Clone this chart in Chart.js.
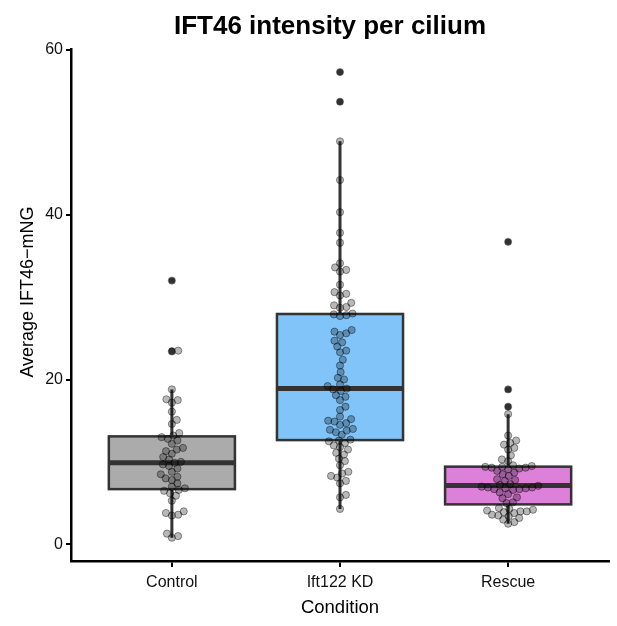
<!DOCTYPE html>
<html>
<head>
<meta charset="utf-8">
<script src="https://cdn.jsdelivr.net/npm/chart.js@4"></script>
<style>
  html, body { margin: 0; padding: 0; background: #fff; }
  #wrap { width: 617px; height: 626px; }
</style>
</head>
<body>
<div id="wrap"><canvas id="myChart" width="617" height="626"></canvas></div>
<script>
// Data
const conditions = ["Control", "Ift122 KD", "Rescue"];
const control = [0.8, 1.0, 1.3, 3.5, 3.6, 3.8, 4.0, 5.3, 5.9, 6.2, 6.5, 6.6, 6.8, 7.0, 7.4, 7.8, 8.0, 8.2, 8.5, 8.8, 9.2, 9.5, 9.7, 9.9, 10.0, 10.3, 10.6, 11.0, 11.3, 11.5, 11.7, 12.2, 12.6, 12.8, 13.0, 13.2, 13.5, 14.6, 15.1, 16.1, 17.2, 17.5, 17.6, 18.8, 23.4, 23.5, 32.0];
const ift122KD = [4.3, 5.7, 6.0, 7.4, 7.7, 8.1, 8.3, 8.6, 8.8, 9.6, 10.1, 10.4, 10.9, 11.1, 11.5, 11.8, 12.0, 12.3, 12.5, 12.6, 12.7, 13.3, 13.6, 13.8, 13.9, 14.0, 14.5, 14.7, 14.9, 15.0, 15.2, 15.5, 16.3, 16.7, 17.5, 17.9, 18.1, 18.6, 18.8, 18.9, 19.2, 19.4, 20.0, 20.2, 20.9, 21.7, 22.4, 23.3, 23.5, 24.0, 24.5, 24.7, 25.4, 25.6, 25.8, 26.0, 27.7, 27.8, 27.9, 28.0, 28.7, 28.8, 29.0, 29.3, 30.2, 30.4, 30.6, 31.5, 33.1, 33.3, 33.6, 34.1, 36.6, 37.8, 40.3, 44.2, 48.9, 53.7, 57.3];
const rescue = [2.5, 2.7, 3.0, 3.2, 3.4, 3.5, 3.6, 3.8, 3.9, 4.0, 4.0, 4.1, 4.2, 4.3, 4.4, 5.0, 5.1, 5.6, 5.7, 6.1, 6.3, 6.6, 6.7, 6.7, 6.8, 6.8, 6.9, 6.9, 7.0, 7.1, 7.2, 7.3, 7.7, 7.8, 7.9, 8.3, 8.5, 8.7, 8.9, 9.1, 9.2, 9.3, 9.3, 9.4, 9.4, 9.5, 9.6, 10.1, 10.3, 10.8, 11.5, 11.7, 12.1, 12.3, 12.6, 13.2, 15.8, 16.7, 18.8, 36.7];
const yTicks = [0, 20, 40, 60];
const boxColors = ["#ababab", "#80c4fa", "#dd80d9"];

const groups = [control, ift122KD, rescue];
const FONT = "'Liberation Sans', Arial, Helvetica, sans-serif";

// --------------------------- Box statistics ---------------------------
function quantile(sorted, p) {
	const h = (sorted.length - 1) * p;
	const lo = Math.floor(h);
	const hi = Math.min(lo + 1, sorted.length - 1);
	return sorted[lo] + (h - lo) * (sorted[hi] - sorted[lo]);
}

function boxStats(values) {
	const s = [...values].sort((a, b) => a - b);
	const q1 = quantile(s, 0.25);
	const med = quantile(s, 0.5);
	const q3 = quantile(s, 0.75);
	const iqr = q3 - q1;
	const inside = s.filter((v) => v >= q1 - 1.5 * iqr && v <= q3 + 1.5 * iqr);
	return {
		q1, med, q3,
		lo: inside[0],
		hi: inside[inside.length - 1],
		outliers: s.filter((v) => v < q1 - 1.5 * iqr || v > q3 + 1.5 * iqr),
	};
}

const stats = groups.map(boxStats);
const outlierPoints = [];
stats.forEach((st, g) => st.outliers.forEach((v) => outlierPoints.push({ x: g + 1, y: v })));

// --------------------------- Box plugin ---------------------------
const boxPlugin = {
	id: "boxes",
	beforeDatasetsDraw(chart) {
		const { ctx, scales: { x, y } } = chart;
		ctx.save();
		stats.forEach((st, g) => {
			const cx = x.getPixelForValue(g + 1);
			const x0 = x.getPixelForValue(g + 1 - 0.375);
			const x1 = x.getPixelForValue(g + 1 + 0.375);
			const yq1 = y.getPixelForValue(st.q1);
			const yq3 = y.getPixelForValue(st.q3);
			ctx.strokeStyle = "#333333";
			// whiskers
			ctx.lineWidth = 3;
			ctx.beginPath();
			ctx.moveTo(cx, y.getPixelForValue(st.hi));
			ctx.lineTo(cx, yq3);
			ctx.moveTo(cx, yq1);
			ctx.lineTo(cx, y.getPixelForValue(st.lo));
			ctx.stroke();
			// box
			ctx.fillStyle = boxColors[g];
			ctx.fillRect(x0, yq3, x1 - x0, yq1 - yq3);
			ctx.lineWidth = 2.5;
			ctx.strokeRect(x0, yq3, x1 - x0, yq1 - yq3);
			// median
			ctx.lineWidth = 5;
			ctx.beginPath();
			ctx.moveTo(x0, y.getPixelForValue(st.med));
			ctx.lineTo(x1, y.getPixelForValue(st.med));
			ctx.stroke();
		});
		ctx.restore();
	},
	afterDraw(chart) {
		const { ctx, chartArea } = chart;
		ctx.save();
		ctx.fillStyle = "#000";
		ctx.font = "bold 26px " + FONT;
		ctx.textAlign = "center";
		ctx.textBaseline = "middle";
		ctx.fillText("IFT46 intensity per cilium", (chartArea.left + chartArea.right) / 2 - 10, 27);
		// y axis title
		ctx.font = "18px " + FONT;
		ctx.translate(28, (chartArea.top + chartArea.bottom) / 2 - 13);
		ctx.rotate(-Math.PI / 2);
		ctx.fillText("Average IFT46\u2212mNG", 0, 0);
		ctx.restore();
	},
};

// --------------------------- Chart Object ---------------------------
const ctx = document.getElementById("myChart").getContext("2d");
const chart = new Chart(ctx, {
	type: "scatter",
	data: {
		datasets: [
			{
				label: "cells",
				data: [],
				pointRadius: 3.6,
				pointBackgroundColor: "rgba(0,0,0,0.28)",
				pointBorderColor: "rgba(0,0,0,0.4)",
				pointBorderWidth: 1,
			},
			{
				label: "outliers",
				data: outlierPoints,
				pointRadius: 3.2,
				pointBackgroundColor: "#454545",
				pointBorderColor: "#454545",
				pointBorderWidth: 0,
			},
		],
	},
	options: {
		responsive: false,
		animation: false,
		devicePixelRatio: 1,
		layout: { padding: { top: 49, right: 8, left: 0, bottom: 0 } },
		plugins: {
			legend: { display: false },
			tooltip: { enabled: false },
		},
		scales: {
			x: {
				type: "linear",
				min: 0.4,
				max: 3.6,
				afterBuildTicks: (scale) => {
					scale.ticks = conditions.map((c, i) => ({ value: i + 1 }));
				},
				afterFit: (scale) => { scale.height = 65; },
				ticks: {
					callback: (v) => conditions[v - 1],
					color: "#111",
					font: { family: FONT, size: 16 },
					padding: 6,
					maxRotation: 0,
				},
				grid: { display: true, drawOnChartArea: false, drawTicks: true, tickLength: 6, color: "#000", lineWidth: 2 },
				border: { display: true, color: "#000", width: 2.5 },
				title: { display: true, text: "Condition", color: "#000", font: { family: FONT, size: 18.5 }, padding: { bottom: 7, top: 0 } },
			},
			y: {
				type: "linear",
				min: -2.02,
				max: 60.1,
				afterBuildTicks: (scale) => {
					scale.ticks = yTicks.map((v) => ({ value: v }));
				},
				afterFit: (scale) => { scale.width = 71; },
				ticks: {
					color: "#111",
					font: { family: FONT, size: 16 },
					padding: 3,
				},
				grid: { display: true, drawOnChartArea: false, drawTicks: true, tickLength: 5, color: "#000", lineWidth: 2 },
				border: { display: true, color: "#000", width: 2.5 },
				title: { display: false },
			},
		},
	},
	plugins: [boxPlugin],
});

// --------------------------- Beeswarm placement ---------------------------
function swarm(values, g) {
	const xs = chart.scales.x;
	const ys = chart.scales.y;
	const pxPerUnit = xs.getPixelForValue(2) - xs.getPixelForValue(1);
	const d = 6.4; // min distance between centres in px
	const placed = [];
	const sorted = [...values].sort((a, b) => a - b);
	sorted.forEach((v) => {
		const py = ys.getPixelForValue(v);
		const cands = [0];
		placed.forEach((p) => {
			const dy = Math.abs(p.py - py);
			if (dy < d) {
				const w = Math.sqrt(d * d - dy * dy);
				cands.push(p.px + w, p.px - w);
			}
		});
		cands.sort((a, b) => Math.abs(a) - Math.abs(b));
		let px = 0;
		for (const c of cands) {
			const ok = placed.every((p) => (p.px - c) ** 2 + (p.py - py) ** 2 >= d * d - 0.01);
			if (ok) { px = c; break; }
		}
		placed.push({ px, py });
	});
	return placed.map((p, i) => ({ x: g + 1 + p.px / pxPerUnit, y: sorted[i] }));
}

chart.data.datasets[0].data = groups.flatMap((vals, g) => swarm(vals, g));
chart.update("none");
</script>
</body>
</html>
